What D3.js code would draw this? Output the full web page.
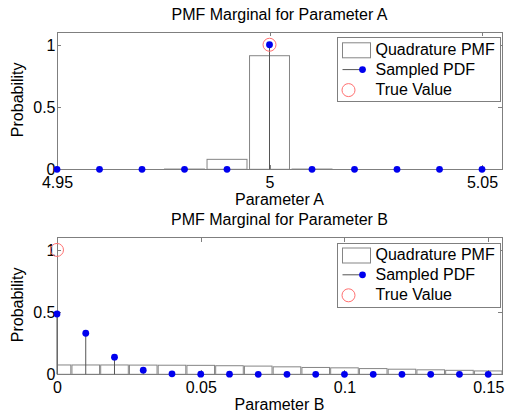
<!DOCTYPE html>
<html lang="en">
<head>
<meta charset="utf-8">
<script src="https://d3js.org/d3.v7.min.js"></script>
<style type="text/css">
body {
  margin: 0;
  background: #fff;
}
svg text {
  font-family: "Liberation Sans", Arial, sans-serif;
  font-size: 16px;
  fill: #000;
}
.axis path, .axis line {
  fill: none;
  stroke: #7f7f7f;
  shape-rendering: crispEdges;
}
.bar {
  fill: #fff;
  stroke: #858585;
  stroke-width: 1;
}
.stem {
  stroke: #555;
  stroke-width: 1;
}
.dot {
  fill: #0000ee;
}
.truev {
  fill: none;
  stroke: #ff7070;
  stroke-width: 1;
}
</style>
<title>PMF Marginals</title>
</head>
<body>
<script type="text/javascript">
// parameter A
var aX = [4.95, 4.96, 4.97, 4.98, 4.99, 5.00, 5.01, 5.02, 5.03, 5.04, 5.05];
var aPMF = [0, 0, 0, 0.002, 0.08, 0.912, 0.002, 0, 0, 0, 0];
var aPDF = [0, 0, 0, 0, 0, 1.0, 0, 0, 0, 0, 0];
var aTrue = [5.0, 1.0];
var aTicks = [4.95, 5, 5.05];

// parameter B
var bX = [0, 0.01, 0.02, 0.03, 0.04, 0.05, 0.06, 0.07, 0.08, 0.09, 0.10, 0.11, 0.12, 0.13, 0.14, 0.15];
var bPMF = [0.075, 0.075, 0.075, 0.074, 0.073, 0.072, 0.069, 0.066, 0.060, 0.055, 0.052, 0.046, 0.041, 0.036, 0.032, 0.027];
var bPDF = [0.485, 0.33, 0.138, 0.033, 0.004, 0.001, 0.001, 0, 0, 0, 0, 0, 0, 0, 0, 0];
var bTrue = [0, 1.0];
var bTicks = [0, 0.05, 0.1, 0.15];

var yTicks = [0, 0.5, 1];
var legendNames = ["Quadrature PMF", "Sampled PDF", "True Value"];

var W = 507, H = 418;
var left = 57, right = 502;

var svg = d3.select("body").append("svg")
  .attr("width", W)
  .attr("height", H);

function panel(id, top, bottom, xs, pmf, pdf, truev, xticks, barFrac, title, xlabel) {
  var step = xs[1] - xs[0];
  var bw = step * barFrac;
  var x = d3.scaleLinear().domain([xs[0], xs[xs.length - 1] + bw / 2]).range([left, right]);
  var y = d3.scaleLinear().domain([0, 1.1]).range([bottom, top]);

  var g = svg.append("g");

  g.append("clipPath").attr("id", "clip" + id)
    .append("rect")
    .attr("x", left).attr("y", top)
    .attr("width", right - left).attr("height", bottom - top);

  // bars
  g.append("g").attr("clip-path", "url(#clip" + id + ")")
    .selectAll("rect")
    .data(xs).enter()
    .append("rect")
      .attr("class", "bar")
      .attr("x", function(d) { return x(d - bw / 2); })
      .attr("width", function(d) { return x(d + bw / 2) - x(d - bw / 2); })
      .attr("y", function(d, i) { return y(pmf[i]); })
      .attr("height", function(d, i) { return y(0) - y(pmf[i]); });

  // axes box
  var fmt = function(d) { return d3.format("~g")(d); };
  g.append("g").attr("class", "axis")
    .attr("transform", "translate(0," + bottom + ")")
    .call(d3.axisBottom(x).tickValues(xticks).tickSize(-4).tickPadding(8).tickFormat(fmt))
    .call(function(s) { s.selectAll("text").attr("font-size", null).attr("font-family", null).attr("dy", null).attr("y", 18.5); });
  g.append("g").attr("class", "axis")
    .attr("transform", "translate(0," + top + ")")
    .call(d3.axisTop(x).tickValues(xticks).tickSize(-4).tickFormat(""));
  g.append("g").attr("class", "axis")
    .attr("transform", "translate(" + left + ",0)")
    .call(d3.axisLeft(y).tickValues(yTicks).tickSize(-4).tickPadding(2).tickFormat(fmt))
    .call(function(s) { s.selectAll("text").attr("font-size", null).attr("font-family", null).attr("x", -1.5).attr("dy", "0.34em"); });
  g.append("g").attr("class", "axis")
    .attr("transform", "translate(" + right + ",0)")
    .call(d3.axisRight(y).tickValues(yTicks).tickSize(-4).tickFormat(""));
  g.selectAll(".axis .domain").attr("d", null);
  g.append("rect")
    .attr("x", left).attr("y", top)
    .attr("width", right - left).attr("height", bottom - top)
    .attr("fill", "none").attr("stroke", "#7f7f7f")
    .attr("shape-rendering", "crispEdges");

  // stems
  g.append("g").selectAll("line")
    .data(xs).enter()
    .append("line")
      .attr("class", "stem")
      .attr("x1", function(d) { return x(d); })
      .attr("x2", function(d) { return x(d); })
      .attr("y1", y(0))
      .attr("y2", function(d, i) { return y(pdf[i]); });
  g.append("g").selectAll("circle")
    .data(xs).enter()
    .append("circle")
      .attr("class", "dot")
      .attr("cx", function(d) { return x(d); })
      .attr("cy", function(d, i) { return y(pdf[i]); })
      .attr("r", 3.4);

  // true value
  g.append("circle")
    .attr("class", "truev")
    .attr("cx", x(truev[0]))
    .attr("cy", y(truev[1]))
    .attr("r", 6.5);

  // labels
  g.append("text")
    .attr("x", (left + right) / 2)
    .attr("y", top - 12.8)
    .attr("text-anchor", "middle")
    .text(title);
  g.append("text")
    .attr("x", (left + right) / 2)
    .attr("y", bottom + 35.5)
    .attr("text-anchor", "middle")
    .text(xlabel);
  g.append("text")
    .attr("transform", "translate(22.5," + ((top + bottom) / 2 - 1) + ") rotate(-90)")
    .attr("text-anchor", "middle")
    .text("Probability");

  // legend
  var lx = 337, ly = top + 5.5;
  var leg = g.append("g").attr("transform", "translate(" + lx + "," + ly + ")");
  leg.append("rect")
    .attr("width", 163).attr("height", 64)
    .attr("fill", "#fff").attr("stroke", "#7f7f7f")
    .attr("shape-rendering", "crispEdges");
  leg.selectAll("text")
    .data(legendNames).enter()
    .append("text")
      .attr("x", 38.5)
      .attr("y", function(d, i) { return 17.3 + i * 20; })
      .text(function(d) { return d; });
  leg.append("rect")
    .attr("class", "bar")
    .attr("x", 5.5).attr("y", 5).attr("width", 28).attr("height", 15);
  leg.append("line")
    .attr("class", "stem")
    .attr("x1", 5.5).attr("x2", 25.5).attr("y1", 31.8).attr("y2", 31.8);
  leg.append("circle")
    .attr("class", "dot")
    .attr("cx", 25.5).attr("cy", 31.8).attr("r", 3.4);
  leg.append("circle")
    .attr("class", "truev")
    .attr("cx", 11.5).attr("cy", 52.3).attr("r", 6.5);
}

panel("a", 32.3, 169.3, aX, aPMF, aPDF, aTrue, aTicks, 0.94,
  "PMF Marginal for Parameter A", "Parameter A");
panel("b", 237.5, 374.3, bX, bPMF, bPDF, bTrue, bTicks, 0.96,
  "PMF Marginal for Parameter B", "Parameter B");
</script>
</body>
</html>
